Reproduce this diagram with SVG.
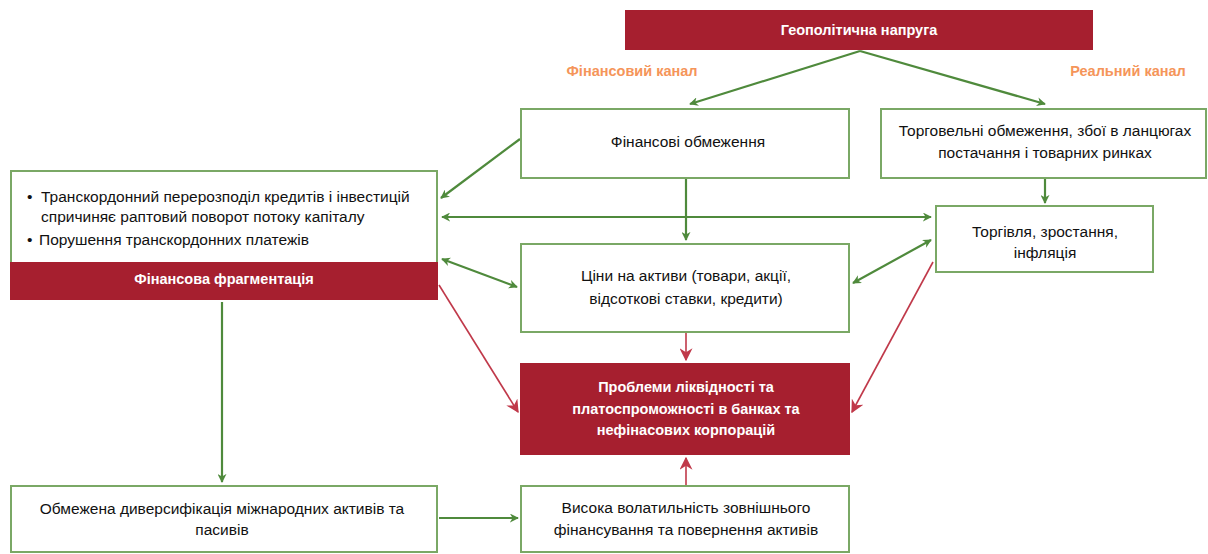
<svg xmlns="http://www.w3.org/2000/svg" width="1208" height="554" viewBox="0 0 1208 554">
<style>
.box{fill:#fff;stroke:#7aa865;stroke-width:2}
.red{fill:#a61f2f}
.t{font-family:"Liberation Sans",Arial,sans-serif;font-size:15.5px;fill:#111;text-anchor:middle}
.tl{font-family:"Liberation Sans",Arial,sans-serif;font-size:15.5px;fill:#111}
.w{font-family:"Liberation Sans",Arial,sans-serif;font-size:14.5px;font-weight:bold;fill:#fff;text-anchor:middle}
.o{font-family:"Liberation Sans",Arial,sans-serif;font-size:14.5px;font-weight:bold;fill:#f5955a;text-anchor:middle}
.g{stroke:#4f8a3c;stroke-width:2.2;fill:none}
.r{stroke:#c0394a;stroke-width:1.6;fill:none}
</style>
<defs>
<marker id="ag" viewBox="0 0 10 10" refX="9" refY="5" markerWidth="9" markerHeight="9" orient="auto-start-reverse" markerUnits="userSpaceOnUse">
<path d="M0,0 L10,5 L0,10 L3,5 z" fill="#4f8a3c"/>
</marker>
<marker id="ar" viewBox="0 0 10 10" refX="9" refY="5" markerWidth="13" markerHeight="13" orient="auto-start-reverse" markerUnits="userSpaceOnUse">
<path d="M0,0 L10,5 L0,10 L3,5 z" fill="#c0394a"/>
</marker>
</defs>
<g id="connectors">
<line class="g" x1="860" y1="51" x2="690" y2="104" marker-end="url(#ag)"/>
<line class="g" x1="860" y1="51" x2="1045" y2="104" marker-end="url(#ag)"/>
<line class="g" x1="520" y1="139" x2="441" y2="198" marker-end="url(#ag)"/>
<line class="g" x1="442" y1="217" x2="931" y2="217" marker-start="url(#ag)" marker-end="url(#ag)"/>
<line class="g" x1="442" y1="259" x2="517" y2="287" marker-start="url(#ag)" marker-end="url(#ag)"/>
<line class="g" x1="686" y1="179" x2="686" y2="240" marker-end="url(#ag)"/>
<line class="g" x1="1045" y1="179" x2="1045" y2="203" marker-end="url(#ag)"/>
<line class="g" x1="931" y1="240" x2="853" y2="283" marker-start="url(#ag)" marker-end="url(#ag)"/>
<line class="g" x1="222" y1="302" x2="222" y2="482" marker-end="url(#ag)"/>
<line class="g" x1="439" y1="518" x2="518" y2="518" marker-end="url(#ag)"/>
<line class="r" x1="439" y1="285" x2="518" y2="412" marker-end="url(#ar)"/>
<line class="r" x1="933" y1="262" x2="852" y2="412" marker-end="url(#ar)"/>
<line class="r" x1="686" y1="333" x2="686" y2="360" marker-end="url(#ar)"/>
<line class="r" x1="686" y1="485" x2="686" y2="458" marker-end="url(#ar)"/>
</g>
<g id="geo">
<rect class="red" x="625" y="10" width="468" height="40"/>
<text class="w" x="859" y="35">Геополітична напруга</text>
</g>
<g id="labels">
<text class="o" x="632" y="76">Фінансовий канал</text>
<text class="o" x="1128" y="76">Реальний канал</text>
</g>
<g id="fin-constraints">
<rect class="box" x="521" y="109" width="328" height="69"/>
<text class="t" x="688" y="147">Фінансові обмеження</text>
</g>
<g id="trade-constraints">
<rect class="box" x="881" y="109" width="325" height="69"/>
<text class="t" x="1045" y="136">Торговельні обмеження, збої в ланцюгах</text>
<text class="t" x="1045" y="158">постачання і товарних ринках</text>
</g>
<g id="fragmentation">
<rect class="box" x="11" y="171" width="426" height="92"/>
<rect class="red" x="10" y="262" width="428" height="38"/>
<text class="tl" x="27" y="202">•</text>
<text class="tl" x="41" y="202">Транскордонний перерозподіл кредитів і інвестицій</text>
<text class="tl" x="41" y="222">спричиняє раптовий поворот потоку капіталу</text>
<text class="tl" x="27" y="245">•</text>
<text class="tl" x="39" y="245">Порушення транскордонних платежів</text>
<text class="w" x="224" y="284">Фінансова фрагментація</text>
</g>
<g id="trade-growth">
<rect class="box" x="936" y="206" width="217" height="66"/>
<text class="t" x="1045" y="237">Торгівля, зростання,</text>
<text class="t" x="1045" y="258">інфляція</text>
</g>
<g id="asset-prices">
<rect class="box" x="521" y="244" width="328" height="88"/>
<text class="t" x="686" y="281">Ціни на активи (товари, акції,</text>
<text class="t" x="686" y="304">відсоткові ставки, кредити)</text>
</g>
<g id="liquidity">
<rect class="red" x="520" y="363" width="330" height="92"/>
<text class="w" x="686" y="392">Проблеми ліквідності та</text>
<text class="w" x="686" y="414">платоспроможності в банках та</text>
<text class="w" x="686" y="435">нефінасових корпорацій</text>
</g>
<g id="diversification">
<rect class="box" x="11" y="486" width="426" height="66"/>
<text class="t" x="222" y="514">Обмежена диверсифікація міжнародних активів та</text>
<text class="t" x="222" y="535">пасивів</text>
</g>
<g id="volatility">
<rect class="box" x="521" y="486" width="328" height="66"/>
<text class="t" x="686" y="513">Висока волатильність зовнішнього</text>
<text class="t" x="686" y="535">фінансування та повернення активів</text>
</g>
</svg>
